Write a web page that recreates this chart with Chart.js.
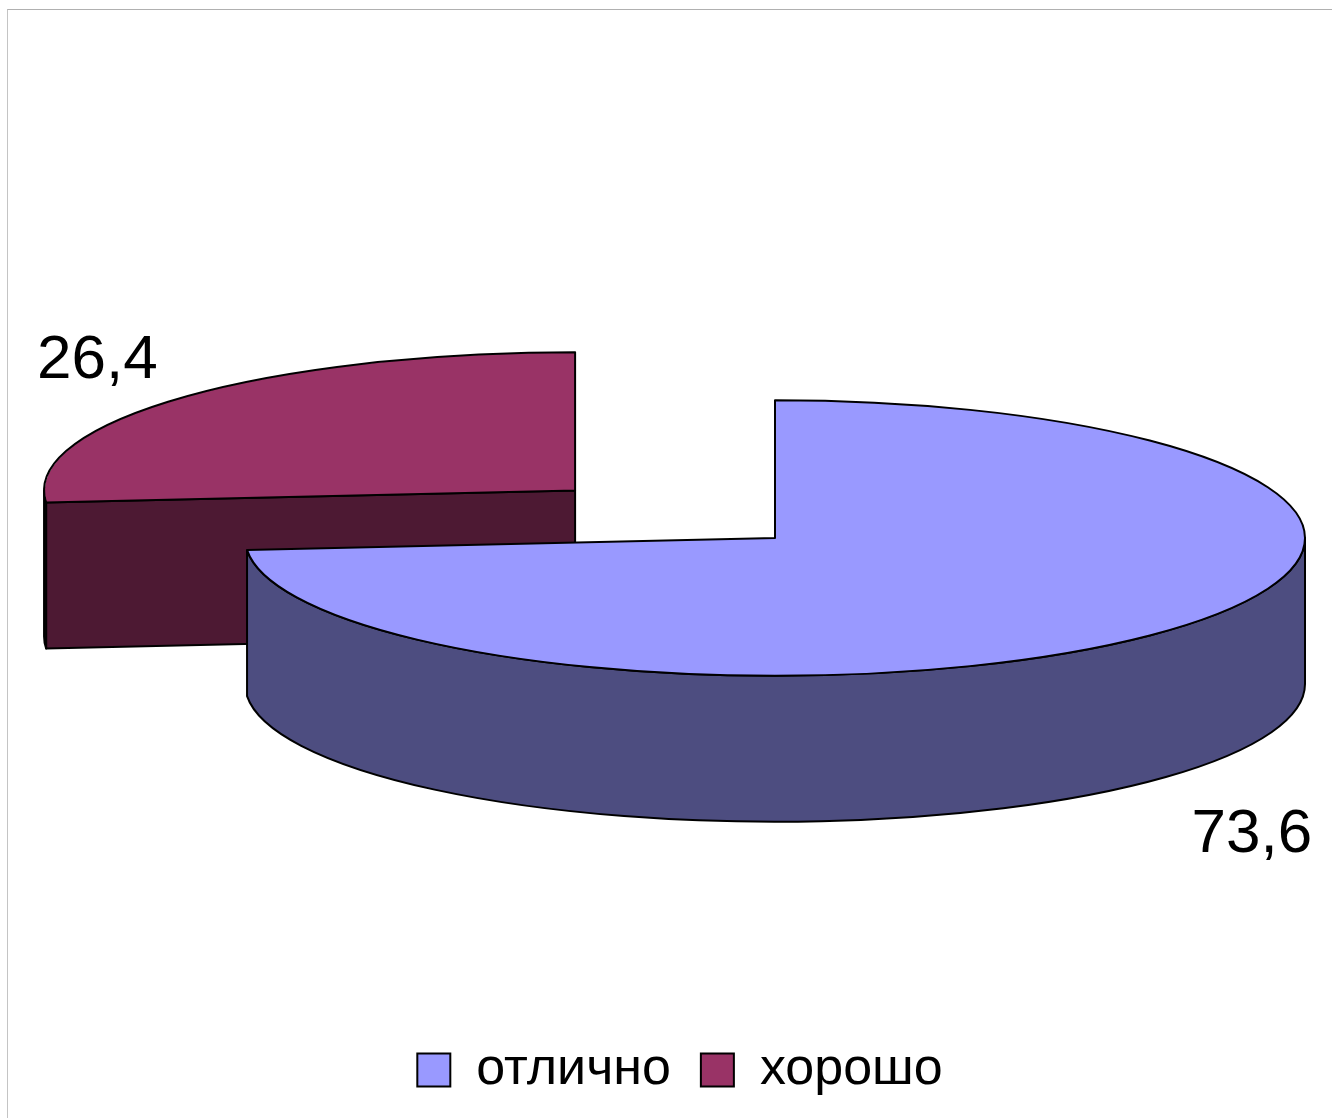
<!DOCTYPE html>
<html lang="ru">
<head>
<meta charset="utf-8">
<title>отлично / хорошо</title>
<script src="https://cdn.jsdelivr.net/npm/chart.js@4.4.1/dist/chart.umd.min.js"></script>
<style>
  html, body { margin: 0; padding: 0; background: #fff; }
  #frame {
    position: absolute; left: 7px; top: 9px; width: 1400px; height: 1200px;
    border-top: 1px solid #b0b0b0; border-left: 1px solid #c4c4c4;
  }
  #wrap { position: relative; width: 1332px; height: 1118px; }
</style>
</head>
<body>
<div id="frame"></div>
<div id="wrap"><canvas id="pieChart"></canvas></div>
<script>
// Данные диаграммы
const categories = ['отлично', 'хорошо'];
const values = [73.6, 26.4];

// Цвета: верхняя грань и боковая стенка
const topColors = ['#9999FF', '#993366'];
const sideColors = ['#4D4D80', '#4D1933'];

const TILT = 0.26;     // сжатие по вертикали (наклон диска)
const DEPTH = 146;     // толщина диска, px
const RADIUS = 530;    // радиус диска, px
const FONT = '"Liberation Sans", Arial, sans-serif';

// Смещение выдвинутого сектора — повторяет ArcElement.draw() из Chart.js v4
function arcShift(arc) {
  const off = (arc.options.offset || 0) / 4;
  const fix = 1 - Math.sin(Math.min(Math.PI, arc.circumference || 0));
  const d = off + off * fix;
  const m = (arc.startAngle + arc.endAngle) / 2;
  return {
    cx: arc.x + Math.cos(m) * d,
    cy: arc.y + Math.sin(m) * d * TILT,
    r: arc.outerRadius + off * fix,
    m
  };
}

function drawWalls(ctx, arc, color) {
  const { cx, cy, r } = arcShift(arc);
  const ry = r * TILT;
  ctx.fillStyle = color;
  ctx.strokeStyle = '#000';
  ctx.lineWidth = 2;
  ctx.lineJoin = 'round';

  // радиальные грани, повернутые к зрителю
  [[arc.startAngle, -Math.cos(arc.startAngle)], [arc.endAngle, Math.cos(arc.endAngle)]].forEach(([a, facing]) => {
    if (facing <= 1e-6) return;
    const ex = cx + r * Math.cos(a), ey = cy + ry * Math.sin(a);
    ctx.beginPath();
    ctx.moveTo(cx, cy);
    ctx.lineTo(ex, ey);
    ctx.lineTo(ex, ey + DEPTH);
    ctx.lineTo(cx, cy + DEPTH);
    ctx.closePath();
    ctx.fill();
    ctx.stroke();
  });

  // внешняя стенка — только передняя половина (0..PI)
  const a = Math.max(arc.startAngle, 0), b = Math.min(arc.endAngle, Math.PI);
  if (b > a) {
    ctx.beginPath();
    ctx.ellipse(cx, cy, r, ry, 0, a, b);
    ctx.ellipse(cx, cy + DEPTH, r, ry, 0, b, a, true);
    ctx.closePath();
    ctx.fill();
    ctx.stroke();
  }
}

const pie3d = {
  id: 'pie3d',
  beforeDatasetsDraw(chart) {
    const ctx = chart.ctx;
    const arcs = chart.getDatasetMeta(0).data.map((arc, i) => ({ arc, i }));
    // сначала задние секторы
    arcs.sort((p, q) => Math.sin(arcShift(p.arc).m) - Math.sin(arcShift(q.arc).m));
    ctx.save();
    arcs.forEach(({ arc, i }) => drawWalls(ctx, arc, sideColors[i]));
    ctx.restore();
  },
  beforeDatasetDraw(chart) {
    // верхние грани рисует сам Chart.js в сжатом контексте
    const arc = chart.getDatasetMeta(0).data[0];
    const ctx = chart.ctx;
    ctx.save();
    ctx.translate(arc.x, arc.y);
    ctx.scale(1, TILT);
    ctx.translate(-arc.x, -arc.y);
  },
  afterDatasetDraw(chart) {
    chart.ctx.restore();
  },
  afterDatasetsDraw(chart) {
    const ctx = chart.ctx;
    ctx.save();
    ctx.strokeStyle = '#000';
    ctx.lineWidth = 2;
    ctx.lineJoin = 'round';
    chart.getDatasetMeta(0).data.forEach((arc, i) => {
      const { cx, cy, r, m } = arcShift(arc);
      // контур верхней грани
      ctx.beginPath();
      ctx.moveTo(cx, cy);
      ctx.ellipse(cx, cy, r, r * TILT, 0, arc.startAngle, arc.endAngle);
      ctx.closePath();
      ctx.stroke();

      // подпись значения
      const front = Math.sin(m) > 0;
      const lx = cx + Math.cos(m) * r * 1.22;
      const ly = cy + Math.sin(m) * r * TILT * 1.22 + (front ? DEPTH + 6 : 1);
      ctx.fillStyle = '#000';
      ctx.font = '62px ' + FONT;
      ctx.textAlign = 'center';
      ctx.textBaseline = front ? 'top' : 'alphabetic';
      ctx.fillText(values[i].toFixed(1).replace('.', ','), lx, ly);
    });
    ctx.restore();
  },
  afterLayout(chart) {
    // легенда по центру холста (чуть правее), а не области диаграммы
    chart.legend.left = 14;
    chart.legend.right = chart.width + 14;
    chart.legend.width = chart.width;
  }
};

const baseLabels = Chart.overrides.doughnut.plugins.legend.labels.generateLabels;

new Chart(document.getElementById('pieChart'), {
  type: 'pie',
  data: {
    labels: categories,
    datasets: [{
      data: values,
      backgroundColor: topColors,
      borderWidth: 0,
      offset: [0, 1080],   // выдвинутый сектор «хорошо»
      radius: RADIUS,
      cutout: '0%',        // строкой: иначе при большом offset 0/0 = NaN
      clip: false
    }]
  },
  options: {
    responsive: true,
    maintainAspectRatio: false,
    animation: false,
    layout: { padding: { top: 62, bottom: 12, left: 218, right: 0 } },
    plugins: {
      tooltip: { enabled: false },
      legend: {
        position: 'bottom',
        labels: {
          color: '#000',
          boxWidth: 33,
          boxHeight: 33,
          padding: 30,
          font: { family: FONT, size: 52 },
          generateLabels: chart => baseLabels(chart).map(l => ({ ...l, lineWidth: 2, strokeStyle: '#000' }))
        }
      }
    }
  },
  plugins: [pie3d]
});
</script>
</body>
</html>
